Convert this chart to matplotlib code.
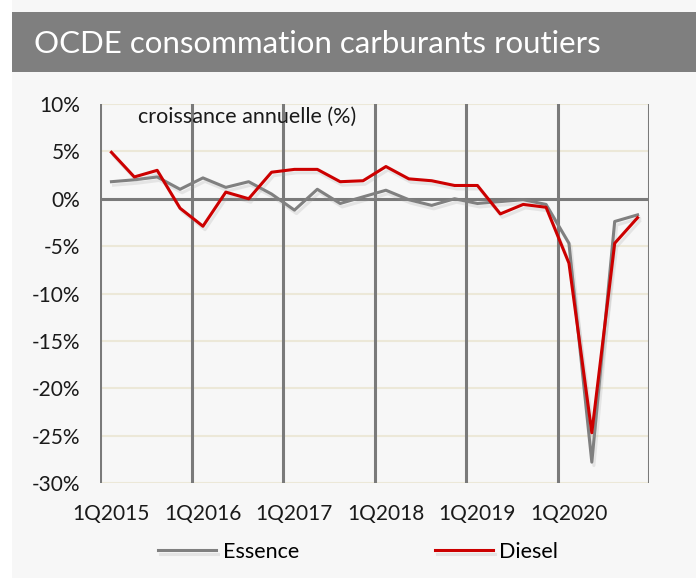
import matplotlib.pyplot as plt
import matplotlib.patheffects as pe
from matplotlib.patches import Rectangle

# Quarterly data, 1Q2015 .. 4Q2020 (annual growth, %)
quarters = [f"{q}Q{y}" for y in range(2015, 2021) for q in range(1, 5)]
essence = [1.8, 2.0, 2.3, 1.0, 2.2, 1.2, 1.8, 0.5, -1.2, 1.0, -0.5, 0.2,
           0.9, -0.1, -0.7, 0.0, -0.5, -0.3, -0.1, -0.6, -4.7, -27.8, -2.4, -1.7]
diesel = [4.9, 2.3, 3.0, -1.0, -2.9, 0.7, 0.0, 2.8, 3.1, 3.1, 1.8, 1.9,
          3.4, 2.1, 1.9, 1.4, 1.4, -1.6, -0.6, -0.9, -6.8, -24.7, -4.7, -2.0]
year_labels = ["1Q2015", "1Q2016", "1Q2017", "1Q2018", "1Q2019", "1Q2020"]
y_ticks = [10, 5, 0, -5, -10, -15, -20, -25, -30]

plt.rcParams.update({
    'font.family': ['Lato', 'DejaVu Sans'],
    'font.size': 12,
})

fig = plt.figure(figsize=(6.96, 5.78), dpi=100)
fig.patch.set_facecolor("white")

# light background panel and grey title bar
fig.patches.append(Rectangle((12 / 696, 0), 1, 1, transform=fig.transFigure,
                             facecolor="#f7f7f7", edgecolor="none", zorder=-10))
fig.patches.append(Rectangle((12 / 696, 1 - 72 / 578), 1, 60 / 578, transform=fig.transFigure,
                             facecolor="#7f7f7f", edgecolor="none", zorder=-5))
fig.text(34 / 696, 1 - 44 / 578, "OCDE consommation carburants routiers",
         color="white", fontsize=22.5, va="center", ha="left")

ax = fig.add_axes([100 / 696, 1 - 483 / 578, 549 / 696, 379 / 578])
ax.set_facecolor("#f7f7f7")
for s in ax.spines.values():
    s.set_visible(False)

x = list(range(len(quarters)))
n = len(quarters)

# horizontal grid
for v in y_ticks:
    if v == 0:
        continue
    ax.axhline(v, color="#ece8d8", lw=1.5, zorder=1)
ax.axhline(0, color="#7a7a7a", lw=2.2, zorder=2)
# vertical year separators
for k in range(0, n + 1, 4):
    ax.axvline(k - 0.5, color="#7a7a7a", lw=2.2, zorder=2)

shadow = [pe.SimpleLineShadow(offset=(1.5, -2.5), shadow_color="#9a9a9a", alpha=0.2), pe.Normal()]
ax.plot(x, essence, color="#808080", lw=2.2, label="Essence", zorder=3, path_effects=shadow)
ax.plot(x, diesel, color="#cc0000", lw=2.2, label="Diesel", zorder=4, path_effects=shadow)

ax.set_xlim(-0.5, n - 0.5)
ax.set_ylim(-30, 10)
ax.set_yticks(y_ticks)
ax.set_yticklabels([f"{v}%" for v in y_ticks])
ax.set_xticks(x[::4])
ax.set_xticklabels(year_labels)
ax.tick_params(axis="both", length=0, labelsize=15, colors="#1a1a1a")
ax.tick_params(axis="y", pad=14)
ax.tick_params(axis="x", pad=15)

ax.text(0.069, 0.992, "croissance annuelle (%)", transform=ax.transAxes,
        fontsize=15.5, color="#1a1a1a", ha="left", va="top")

fig.legend(loc="center", bbox_to_anchor=(358 / 696, 1 - 552 / 578), ncol=2,
           frameon=False, fontsize=15.5, handlelength=2.7, columnspacing=6.3,
           handletextpad=0.3)

fig.savefig("out.png", dpi=100, facecolor=fig.get_facecolor())
